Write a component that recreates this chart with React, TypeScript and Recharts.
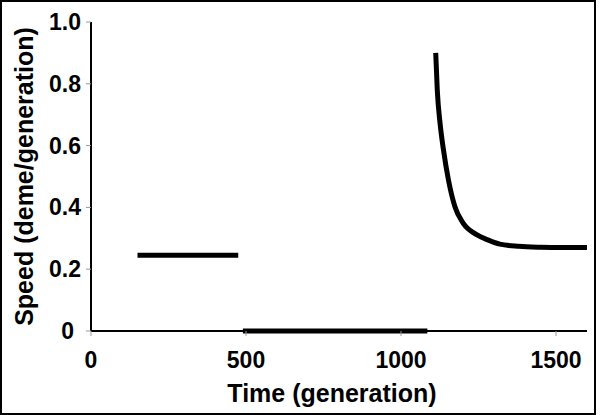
import { LineChart, Line, XAxis, YAxis } from 'recharts';

// flat phase before the break
const plateauTime = [150, 475];
const plateauSpeed = [0.245, 0.245];

// stalled phase (speed zero)
const stallTime = [490, 1085];
const stallSpeed = [0, 0];

// recovery after restart
const recoveryTime = [1112, 1117, 1126, 1137, 1153, 1174, 1201, 1244, 1280, 1319, 1380, 1450, 1520, 1600];
const recoverySpeed = [0.9, 0.78, 0.672, 0.586, 0.489, 0.402, 0.348, 0.312, 0.295, 0.281, 0.274, 0.271, 0.27, 0.27];

const xTicks = [0, 500, 1000, 1500];
const yTicks = [0, 0.2, 0.4, 0.6, 0.8, 1.0];

const zip = (t: number[], s: number[]) => t.map((x, i) => ({ t: x, speed: s[i] }));

const plateau = zip(plateauTime, plateauSpeed);
const stall = zip(stallTime, stallSpeed);
const recovery = zip(recoveryTime, recoverySpeed);

const FONT = "'Liberation Sans', Arial, sans-serif";

function YTick({ x, y, payload }: any) {
  const v = payload.value as number;
  return (
    <text
      x={v === 0 ? x - 7 : x}
      y={y}
      dy={8}
      textAnchor="end"
      fill="#000"
      fontSize={23}
      fontWeight="bold"
      fontFamily={FONT}
    >
      {v === 0 ? '0' : v.toFixed(1)}
    </text>
  );
}

function XTitle(props: any) {
  const vb = props.viewBox;
  return (
    <text
      x={vb.x + vb.width / 2 - 7}
      y={vb.y + vb.height - 13}
      textAnchor="middle"
      fill="#000"
      fontSize={25}
      fontWeight="bold"
      fontFamily={FONT}
    >
      Time (generation)
    </text>
  );
}

function YTitle(props: any) {
  const vb = props.viewBox;
  const cx = vb.x + 33;
  const cy = vb.y + vb.height / 2;
  return (
    <text
      x={cx}
      y={cy}
      transform={`rotate(-90, ${cx}, ${cy})`}
      textAnchor="middle"
      fill="#000"
      fontSize={25}
      fontWeight="bold"
      fontFamily={FONT}
    >
      Speed (deme/generation)
    </text>
  );
}

export default function App() {
  return (
    <div style={{ position: 'absolute', left: 0, top: 0, width: 600, height: 415, background: '#fff' }}>
      <LineChart width={600} height={415} margin={{ top: 22, right: 13, bottom: 0, left: 0 }}>
        <XAxis
          type="number"
          dataKey="t"
          domain={[0, 1600]}
          ticks={xTicks}
          height={84}
          axisLine={{ stroke: '#000', strokeWidth: 2 }}
          tickLine={{ stroke: '#999' }}
          tickSize={5}
          tickMargin={16}
          tick={{ fill: '#000', fontSize: 23, fontWeight: 'bold', fontFamily: FONT }}
          label={<XTitle />}
        />
        <YAxis
          type="number"
          dataKey="speed"
          domain={[0, 1]}
          ticks={yTicks}
          width={91}
          axisLine={{ stroke: '#000', strokeWidth: 2 }}
          tickLine={{ stroke: '#999' }}
          tickSize={5}
          tickMargin={5}
          tick={<YTick />}
          label={<YTitle />}
        />
        <Line data={plateau} dataKey="speed" type="linear" stroke="#000" strokeWidth={5} dot={false} isAnimationActive={false} />
        <Line data={stall} dataKey="speed" type="linear" stroke="#000" strokeWidth={5} dot={false} isAnimationActive={false} />
        <Line data={recovery} dataKey="speed" type="monotone" stroke="#000" strokeWidth={5} dot={false} isAnimationActive={false} />
      </LineChart>
      <div
        style={{
          position: 'absolute',
          left: 0,
          top: 0,
          width: 596,
          height: 415,
          border: '2px solid #000',
          boxSizing: 'border-box',
          pointerEvents: 'none',
        }}
      />
    </div>
  );
}
